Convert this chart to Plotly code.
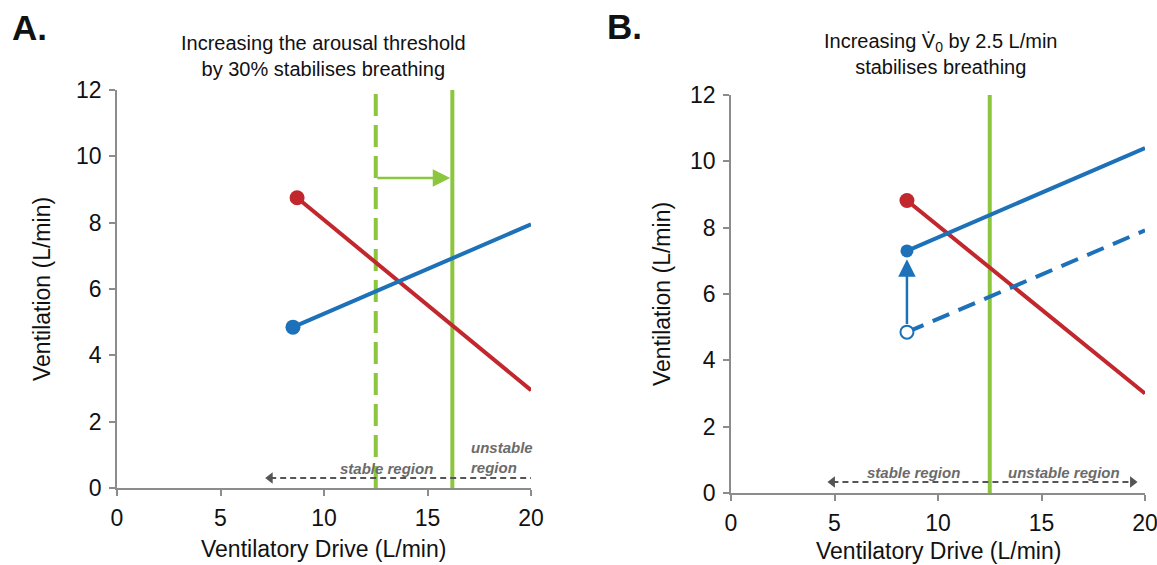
import plotly.graph_objects as go

# ---------------- data ----------------
# Panel A
a_red_x = [8.7, 20]
a_red_y = [8.75, 2.95]
a_blue_x = [8.5, 20]
a_blue_y = [4.85, 7.95]
a_thr_old = 12.5      # original arousal threshold (dashed green)
a_thr_new = 16.2      # +30% arousal threshold (solid green)
a_arrow_y = 9.35
a_region_x = [7.4, 20.1]
a_region_y = 0.3

# Panel B
b_red_x = [8.5, 20]
b_red_y = [8.82, 3.0]
b_blue_new_x = [8.5, 20]
b_blue_new_y = [7.3, 10.4]
b_blue_old_x = [8.5, 20]
b_blue_old_y = [4.85, 7.92]
b_thr = 12.5
b_region_x = [4.9, 19.4]
b_region_y = 0.33

x_ticks = [0, 5, 10, 15, 20]
y_ticks = [0, 2, 4, 6, 8, 10, 12]

RED = "#c1272d"
BLUE = "#1d71b8"
GREEN = "#8cc63f"
GREY = "#555555"
AXIS = "#8c8c8c"
FONT = "Liberation Sans, Arial, sans-serif"

W, H = 1157, 565

fig = go.Figure()

def add(tr, panel):
    if panel == "B":
        tr.update(xaxis="x2", yaxis="y2")
    fig.add_trace(tr)

# ---- Panel A traces ----
add(go.Scatter(x=[a_thr_old, a_thr_old], y=[0, 12], mode="lines",
               line=dict(color=GREEN, width=4, dash="22px,9px")), "A")
add(go.Scatter(x=[a_thr_new, a_thr_new], y=[0, 12], mode="lines",
               line=dict(color=GREEN, width=4)), "A")
add(go.Scatter(x=a_red_x, y=a_red_y, mode="lines", line=dict(color=RED, width=4)), "A")
add(go.Scatter(x=a_blue_x, y=a_blue_y, mode="lines", line=dict(color=BLUE, width=4)), "A")
add(go.Scatter(x=[a_red_x[0]], y=[a_red_y[0]], mode="markers",
               marker=dict(color=RED, size=15)), "A")
add(go.Scatter(x=[a_blue_x[0]], y=[a_blue_y[0]], mode="markers",
               marker=dict(color=BLUE, size=15)), "A")
add(go.Scatter(x=a_region_x, y=[a_region_y, a_region_y], mode="lines+markers",
               line=dict(color=GREY, width=2, dash="6px,4px"),
               marker=dict(symbol=["triangle-left", "triangle-right"], size=10, color=GREY),
               cliponaxis=False), "A")

# ---- Panel B traces ----
add(go.Scatter(x=[b_thr, b_thr], y=[0, 12], mode="lines",
               line=dict(color=GREEN, width=4)), "B")
add(go.Scatter(x=b_red_x, y=b_red_y, mode="lines", line=dict(color=RED, width=4)), "B")
add(go.Scatter(x=b_blue_old_x, y=b_blue_old_y, mode="lines",
               line=dict(color=BLUE, width=4, dash="18px,10px")), "B")
add(go.Scatter(x=b_blue_new_x, y=b_blue_new_y, mode="lines", line=dict(color=BLUE, width=4)), "B")
add(go.Scatter(x=[b_red_x[0]], y=[b_red_y[0]], mode="markers",
               marker=dict(color=RED, size=15)), "B")
add(go.Scatter(x=[b_blue_new_x[0]], y=[b_blue_new_y[0]], mode="markers",
               marker=dict(color=BLUE, size=13)), "B")
add(go.Scatter(x=[b_blue_old_x[0]], y=[b_blue_old_y[0]], mode="markers",
               marker=dict(color="white", size=13, line=dict(color=BLUE, width=2))), "B")
add(go.Scatter(x=b_region_x, y=[b_region_y, b_region_y], mode="lines+markers",
               line=dict(color=GREY, width=2, dash="6px,4px"),
               marker=dict(symbol=["triangle-left", "triangle-right"], size=10, color=GREY),
               cliponaxis=False), "B")

def xaxis(domain, anchor):
    return dict(domain=domain, anchor=anchor, range=[0, 20], tickvals=x_ticks,
                automargin=False, ticklabeloverflow="allow",
                showgrid=False, zeroline=False, showline=True, linecolor=AXIS, linewidth=1.5,
                ticks="outside", ticklen=6, tickcolor=AXIS, tickwidth=1.5,
                tickfont=dict(family=FONT, size=23, color="#111"), ticklabelstandoff=3)

def yaxis(domain, anchor):
    return dict(domain=domain, anchor=anchor, range=[0, 12], tickvals=y_ticks,
                automargin=False, ticklabeloverflow="allow",
                showgrid=False, zeroline=False, showline=True, linecolor=AXIS, linewidth=1.5,
                ticks="outside", ticklen=6, tickcolor=AXIS, tickwidth=1.5,
                tickfont=dict(family=FONT, size=23, color="#111"), ticklabelstandoff=3)

def px(xp):
    return xp / W

def py(yp):
    return 1 - yp / H

annotations = []

def text(x, y, s, size, **kw):
    d = dict(x=x, y=y, xref="paper", yref="paper", text=s, showarrow=False,
             font=dict(family=FONT, size=size, color="#111"), xanchor="center", yanchor="middle")
    d.update(kw)
    annotations.append(d)

# panel labels
text(px(29), py(28), "<b>A.</b>", 35)
text(px(624), py(27), "<b>B.</b>", 35)
# titles
text(px(323), py(56), "Increasing the arousal threshold<br>by 30% stabilises breathing", 20)
text(px(940), py(54), "Increasing V\u0307<sub>0</sub> by 2.5 L/min<br>stabilises breathing", 20)
# axis titles
text(px(42), py(289), "Ventilation (L/min)", 23, textangle=-90)
text(px(662), py(294), "Ventilation (L/min)", 23, textangle=-90)
text(px(323), py(549), "Ventilatory Drive (L/min)", 23)
text(px(938), py(551), "Ventilatory Drive (L/min)", 23)

# region labels
reg_font = dict(family=FONT, size=15, color="#6b6b6b")
annotations += [
    dict(x=13.0, y=0.6, xref="x", yref="y", text="<b><i>stable region</i></b>",
         showarrow=False, font=reg_font, xanchor="center", yanchor="middle"),
    dict(x=17.0, y=0.93, xref="x", yref="y", text="<b><i>unstable<br>region</i></b>",
         showarrow=False, font=reg_font, xanchor="left", yanchor="middle", align="left"),
    dict(x=8.84, y=0.63, xref="x2", yref="y2", text="<b><i>stable region</i></b>",
         showarrow=False, font=reg_font, xanchor="center", yanchor="middle"),
    dict(x=16.09, y=0.63, xref="x2", yref="y2", text="<b><i>unstable region</i></b>",
         showarrow=False, font=reg_font, xanchor="center", yanchor="middle"),
]

# arrows
annotations += [
    dict(x=a_thr_new - 0.1, y=a_arrow_y, ax=a_thr_old, ay=a_arrow_y,
         xref="x", yref="y", axref="x", ayref="y", text="", showarrow=True,
         arrowhead=2, arrowsize=1.4, arrowwidth=2.5, arrowcolor=GREEN),
    dict(x=b_blue_old_x[0], y=b_blue_new_y[0] - 0.25, ax=b_blue_old_x[0], ay=b_blue_old_y[0] + 0.2,
         xref="x2", yref="y2", axref="x2", ayref="y2", text="", showarrow=True,
         arrowhead=2, arrowsize=1.4, arrowwidth=2.5, arrowcolor=BLUE),
]

fig.update_layout(
    width=W, height=H,
    margin=dict(l=0, r=0, t=0, b=0, autoexpand=False),
    paper_bgcolor="white", plot_bgcolor="white",
    showlegend=False,
    xaxis=xaxis([117 / W, 531 / W], "y"),
    yaxis=yaxis([1 - 488 / H, 1 - 90 / H], "x"),
    xaxis2=xaxis([731 / W, 1145 / W], "y2"),
    yaxis2=yaxis([1 - 493 / H, 1 - 95 / H], "x2"),
    annotations=annotations,
    font=dict(family=FONT),
)

fig.write_html("out.html")
